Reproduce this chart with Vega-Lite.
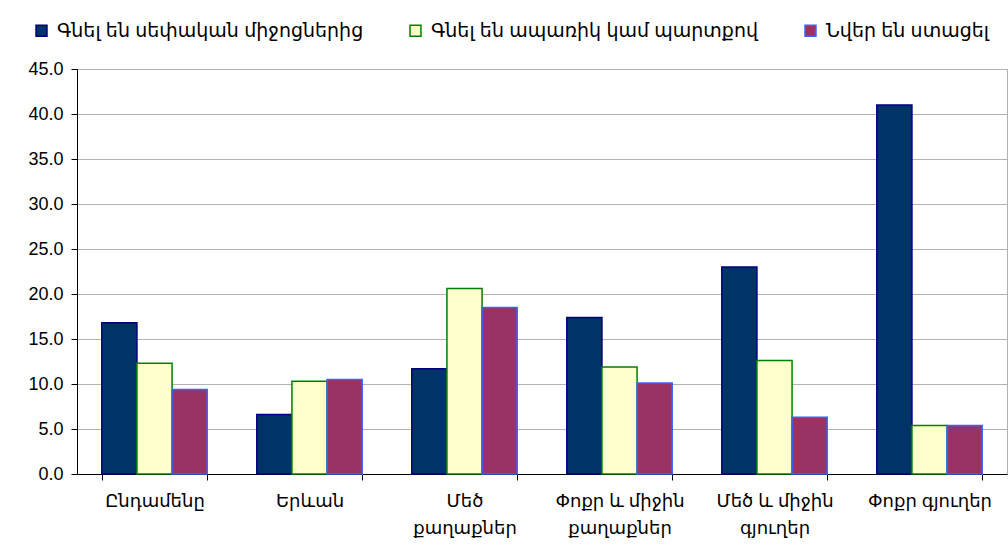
{
  "$schema": "https://vega.github.io/schema/vega-lite/v6.json",
  "autosize": "none",
  "width": 930,
  "height": 405,
  "padding": {"left": 77, "top": 69, "right": 1, "bottom": 74},
  "background": "white",
  "config": {
    "font": "Liberation Sans, DejaVu Sans",
    "view": {"stroke": "#b0b0b0"}
  },
  "data": {
    "values": [
      {"category": "Ընդամենը", "series": "Գնել են սեփական միջոցներից", "value": 16.8},
      {"category": "Ընդամենը", "series": "Գնել են ապառիկ կամ պարտքով", "value": 12.3},
      {"category": "Ընդամենը", "series": "Նվեր են ստացել", "value": 9.4},
      {"category": "Երևան", "series": "Գնել են սեփական միջոցներից", "value": 6.6},
      {"category": "Երևան", "series": "Գնել են ապառիկ կամ պարտքով", "value": 10.3},
      {"category": "Երևան", "series": "Նվեր են ստացել", "value": 10.5},
      {"category": "Մեծ քաղաքներ", "series": "Գնել են սեփական միջոցներից", "value": 11.7},
      {"category": "Մեծ քաղաքներ", "series": "Գնել են ապառիկ կամ պարտքով", "value": 20.6},
      {"category": "Մեծ քաղաքներ", "series": "Նվեր են ստացել", "value": 18.5},
      {"category": "Փոքր և միջին քաղաքներ", "series": "Գնել են սեփական միջոցներից", "value": 17.4},
      {"category": "Փոքր և միջին քաղաքներ", "series": "Գնել են ապառիկ կամ պարտքով", "value": 11.9},
      {"category": "Փոքր և միջին քաղաքներ", "series": "Նվեր են ստացել", "value": 10.1},
      {"category": "Մեծ և միջին գյուղեր", "series": "Գնել են սեփական միջոցներից", "value": 23.0},
      {"category": "Մեծ և միջին գյուղեր", "series": "Գնել են ապառիկ կամ պարտքով", "value": 12.6},
      {"category": "Մեծ և միջին գյուղեր", "series": "Նվեր են ստացել", "value": 6.3},
      {"category": "Փոքր գյուղեր", "series": "Գնել են սեփական միջոցներից", "value": 41.0},
      {"category": "Փոքր գյուղեր", "series": "Գնել են ապառիկ կամ պարտքով", "value": 5.4},
      {"category": "Փոքր գյուղեր", "series": "Նվեր են ստացել", "value": 5.4}
    ]
  },
  "mark": {"type": "bar", "strokeWidth": 1.5},
  "encoding": {
    "x": {
      "field": "category",
      "type": "nominal",
      "sort": ["Ընդամենը", "Երևան", "Մեծ քաղաքներ", "Փոքր և միջին քաղաքներ", "Մեծ և միջին գյուղեր", "Փոքր գյուղեր"],
      "scale": {"paddingInner": 0.32, "paddingOuter": 0.16},
      "axis": {
        "title": null,
        "labelAngle": 0,
        "labelFontSize": 18,
        "labelColor": "black",
        "labelPadding": 12,
        "labelLineHeight": 27,
        "labelBaseline": "top",
        "labelExpr": "datum.label == 'Մեծ քաղաքներ' ? ['Մեծ', 'քաղաքներ'] : datum.label == 'Փոքր և միջին քաղաքներ' ? ['Փոքր և միջին', 'քաղաքներ'] : datum.label == 'Մեծ և միջին գյուղեր' ? ['Մեծ և միջին', 'գյուղեր'] : datum.label",
        "domainColor": "black",
        "tickColor": "black",
        "tickSize": 6,
        "tickBand": "extent",
        "grid": false
      }
    },
    "xOffset": {
      "field": "series",
      "sort": ["Գնել են սեփական միջոցներից", "Գնել են ապառիկ կամ պարտքով", "Նվեր են ստացել"],
      "scale": {"paddingInner": 0, "paddingOuter": 0}
    },
    "y": {
      "field": "value",
      "type": "quantitative",
      "scale": {"domain": [0, 45], "nice": false},
      "axis": {
        "title": null,
        "values": [0, 5, 10, 15, 20, 25, 30, 35, 40, 45],
        "format": ".1f",
        "labelFontSize": 18,
        "labelColor": "black",
        "labelPadding": 8,
        "domainColor": "black",
        "tickColor": "black",
        "tickSize": 6,
        "gridColor": "#b3b3b3",
        "gridOpacity": 1
      }
    },
    "fill": {
      "field": "series",
      "type": "nominal",
      "scale": {
        "domain": ["Գնել են սեփական միջոցներից", "Գնել են ապառիկ կամ պարտքով", "Նվեր են ստացել"],
        "range": ["#003366", "#FFFFCC", "#993366"]
      },
      "legend": {
        "title": null,
        "orient": "none",
        "direction": "horizontal",
        "legendX": -45,
        "legendY": -48,
        "padding": 0,
        "symbolType": "square",
        "symbolSize": 120,
        "symbolStrokeWidth": 1.5,
        "labelFontSize": 19,
        "labelColor": "black",
        "labelOffset": 6,
        "labelLimit": 400,
        "columnPadding": 42
      }
    },
    "stroke": {
      "field": "series",
      "type": "nominal",
      "scale": {
        "domain": ["Գնել են սեփական միջոցներից", "Գնել են ապառիկ կամ պարտքով", "Նվեր են ստացել"],
        "range": ["#000080", "#008000", "#3366FF"]
      }
    }
  }
}
